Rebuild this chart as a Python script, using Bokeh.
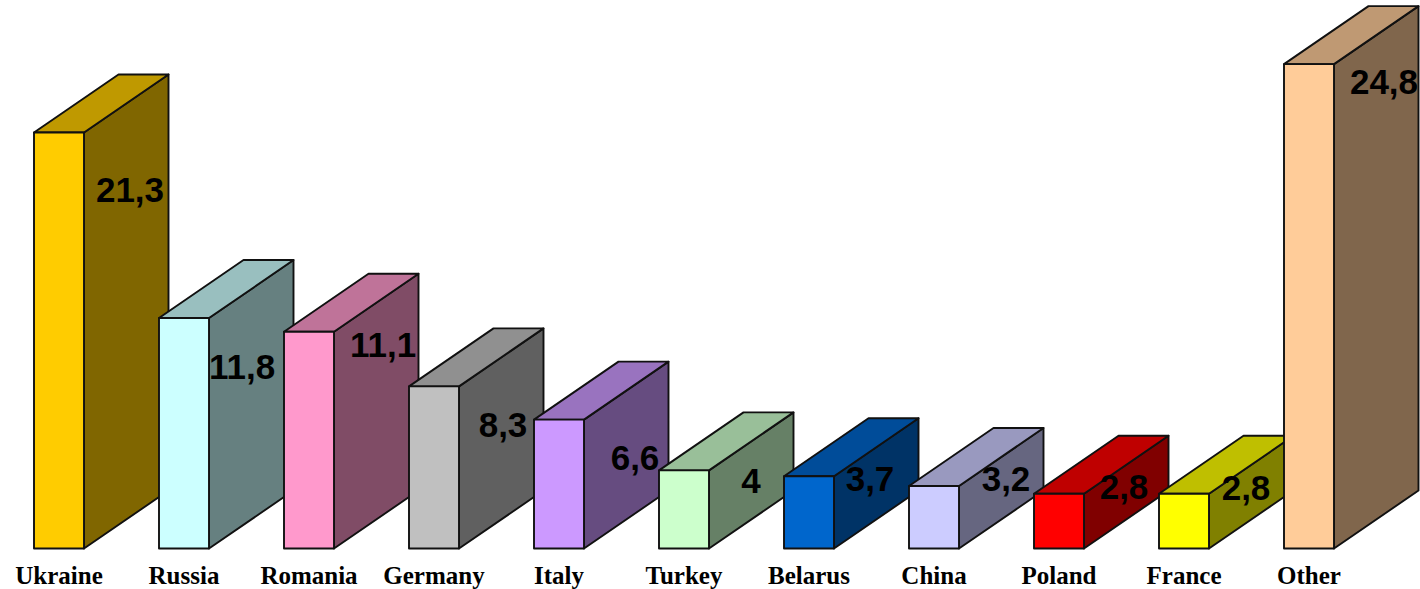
from bokeh.embed import file_html
from bokeh.models import ColumnDataSource, Range1d
from bokeh.plotting import figure
from bokeh.resources import INLINE
from bokeh.core.properties import value

# Chart data
categories = ["Ukraine", "Russia", "Romania", "Germany", "Italy", "Turkey",
              "Belarus", "China", "Poland", "France", "Other"]
values = [21.3, 11.8, 11.1, 8.3, 6.6, 4.0, 3.7, 3.2, 2.8, 2.8, 24.8]
value_labels = ["21,3", "11,8", "11,1", "8,3", "6,6", "4", "3,7", "3,2", "2,8", "2,8", "24,8"]
front_colors = ["#FFCC00", "#CCFFFF", "#FF99CC", "#C0C0C0", "#CC99FF", "#CCFFCC",
                "#0066CC", "#CCCCFF", "#FF0000", "#FFFF00", "#FFCC99"]

# Hand-placed value label offsets (pixels from the top centre of each bar's front face)
label_dx = [71, 58, 74, 69, 76, 67, 61, 72, 65, 62, 75]
label_dy = [57, 49, 13, 39, 38, 11, 3, -7, -7, -6, 18]

# Layout
PX_PER_CATEGORY = 125
PX_PER_UNIT = 19.53
FIRST_CENTER_PX = 58.5
BASELINE_PX = 548
FRAME_W, FRAME_H = 1420, 589
BAR_W = 50 / PX_PER_CATEGORY
DEPTH_X = 84.5 / PX_PER_CATEGORY
DEPTH_Y = 58 / PX_PER_UNIT
CATEGORY_LABEL_GAP_PX = 27


def shade(color, factor):
    """Darken a hex colour for the side and top faces of a block."""
    channels = [int(color[i:i + 2], 16) for i in (1, 3, 5)]
    return "#%02X%02X%02X" % tuple(round(c * factor) for c in channels)


xs, ys, fills = [], [], []
for i, (v, color) in enumerate(zip(values, front_colors)):
    left, right = i - BAR_W / 2, i + BAR_W / 2
    # side face
    xs.append([right, right + DEPTH_X, right + DEPTH_X, right])
    ys.append([0, DEPTH_Y, v + DEPTH_Y, v])
    fills.append(shade(color, 0.5))
    # top face
    xs.append([left, left + DEPTH_X, right + DEPTH_X, right])
    ys.append([v, v + DEPTH_Y, v + DEPTH_Y, v])
    fills.append(shade(color, 0.75))
    # front face
    xs.append([left, left, right, right])
    ys.append([0, v, v, 0])
    fills.append(color)

p = figure(
    width=FRAME_W, height=FRAME_H,
    x_range=Range1d(-FIRST_CENTER_PX / PX_PER_CATEGORY,
                    (FRAME_W - FIRST_CENTER_PX) / PX_PER_CATEGORY),
    y_range=Range1d((BASELINE_PX - FRAME_H) / PX_PER_UNIT, BASELINE_PX / PX_PER_UNIT),
    output_backend="svg", toolbar_location=None,
    min_border=0, outline_line_color=None, background_fill_color="white",
)
p.grid.visible = False
p.axis.visible = False

p.patches("xs", "ys", fill_color="fills", line_color="#111111", line_width=1.9,
          line_join="round", source=ColumnDataSource(dict(xs=xs, ys=ys, fills=fills)))

positions = list(range(len(values)))

# Values, placed on the side faces
p.text(
    "x", "y", text="text", x_offset="dx", y_offset="dy",
    source=ColumnDataSource(dict(x=positions, y=values, text=value_labels,
                                 dx=label_dx, dy=label_dy)),
    text_font=value("Liberation Sans"), text_font_style="bold", text_font_size="35px",
    text_color="#000000", text_align="center", text_baseline="middle",
)

# Category names under the baseline
p.text(
    "x", "y", text="text", y_offset=CATEGORY_LABEL_GAP_PX,
    source=ColumnDataSource(dict(x=positions, y=[0] * len(positions), text=categories)),
    text_font=value("Liberation Serif"), text_font_style="bold", text_font_size="25px",
    text_color="#000000", text_align="center", text_baseline="middle",
)

open("out.html", "w").write(file_html(p, INLINE))
